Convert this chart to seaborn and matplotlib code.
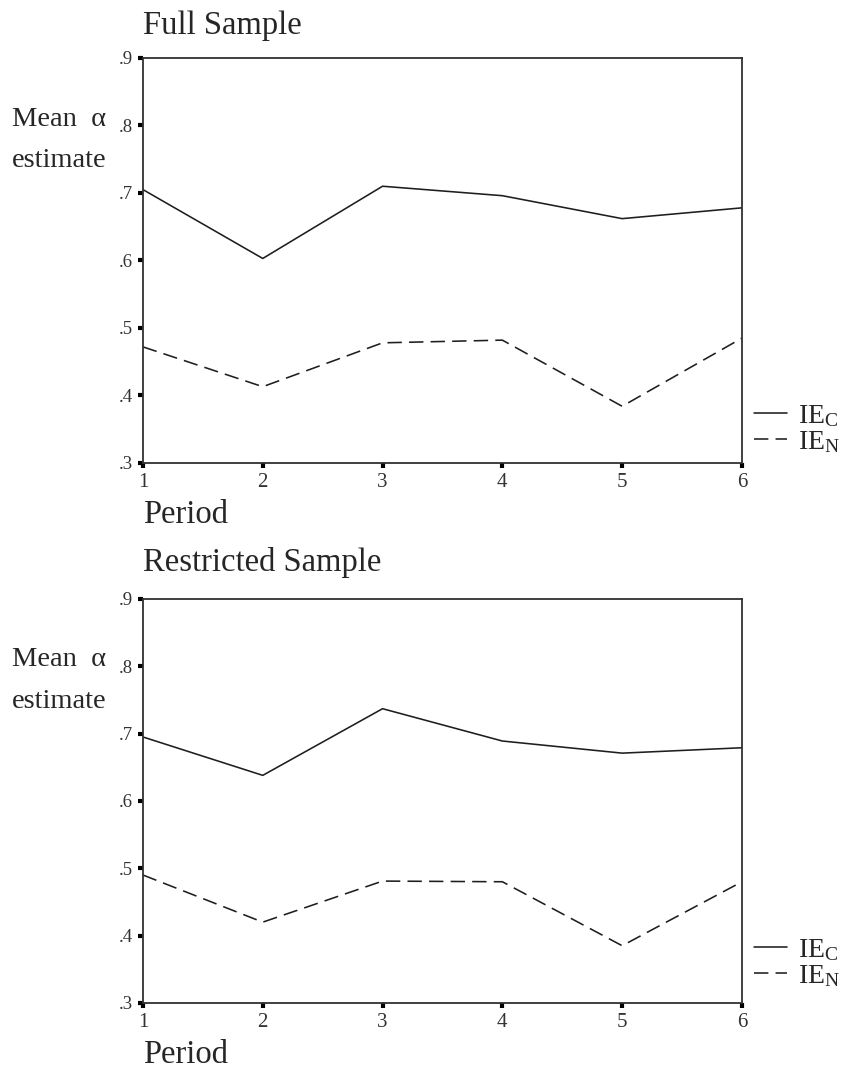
import pandas as pd
import numpy as np
import matplotlib
matplotlib.use("Agg")
import matplotlib.pyplot as plt
import seaborn as sns

# --- data ---
periods = [1, 2, 3, 4, 5, 6]
series_names = ["IE$_{\\mathrm{C}}$", "IE$_{\\mathrm{N}}$"]

full_ie_c = [0.705, 0.603, 0.710, 0.696, 0.662, 0.678]
full_ie_n = [0.472, 0.413, 0.478, 0.482, 0.384, 0.485]

restricted_ie_c = [0.695, 0.638, 0.737, 0.689, 0.671, 0.679]
restricted_ie_n = [0.490, 0.420, 0.481, 0.480, 0.385, 0.480]

panel_titles = ["Full Sample", "Restricted Sample"]
y_ticks = [0.3, 0.4, 0.5, 0.6, 0.7, 0.8, 0.9]
y_tick_labels = [".3", ".4", ".5", ".6", ".7", ".8", ".9"]


def long_frame(ie_c, ie_n):
    return pd.DataFrame({
        "Period": periods * 2,
        "Estimate": ie_c + ie_n,
        "Series": [series_names[0]] * len(periods) + [series_names[1]] * len(periods),
    })


frames = [long_frame(full_ie_c, full_ie_n), long_frame(restricted_ie_c, restricted_ie_n)]

# --- style ---
sns.set_style("ticks")
plt.rcParams["font.family"] = ["Liberation Serif", "DejaVu Serif"]
plt.rcParams["mathtext.fontset"] = "custom"
plt.rcParams["mathtext.rm"] = "Liberation Serif"
plt.rcParams["mathtext.it"] = "Liberation Serif:italic"

line_color = "#1e1e1e"
spine_color = "#303030"

fig = plt.figure(figsize=(8.53, 10.68), dpi=100)
fig.patch.set_facecolor("white")

# axes boxes in figure fraction: [left, bottom, width, height]
boxes = [[0.1676, 0.5665, 0.7022, 0.3792], [0.1676, 0.0609, 0.7022, 0.3783]]
title_pads = [17, 20]
legend_y = [0.02, 0.035]

for i, (df, box) in enumerate(zip(frames, boxes)):
    ax = fig.add_axes(box)
    sns.lineplot(data=df, x="Period", y="Estimate", style="Series",
                 style_order=series_names,
                 dashes={series_names[0]: "", series_names[1]: (9, 4.5)},
                 color=line_color, linewidth=1.15, legend=False, ax=ax)

    ax.set_xlim(1, 6)
    ax.set_ylim(0.3, 0.9)
    ax.set_xticks(periods)
    ax.set_xticklabels([str(p) for p in periods])
    ax.set_yticks(y_ticks)
    ax.set_yticklabels(y_tick_labels)

    for side in ["left", "right", "top", "bottom"]:
        ax.spines[side].set_visible(True)
        ax.spines[side].set_color(spine_color)
        ax.spines[side].set_linewidth(1.3)

    ax.tick_params(axis="both", direction="out", length=3.5, width=3,
                   color="black", pad=4)
    for lab in ax.get_yticklabels():
        lab.set_fontsize(13.5)
        lab.set_color("#333333")
    for lab in ax.get_xticklabels():
        lab.set_fontsize(15)
        lab.set_color("#333333")

    ax.set_title(panel_titles[i], loc="left", fontsize=23.5, pad=title_pads[i])

    ax.set_xlabel("Period", fontsize=23.5, ha="left", va="baseline")
    ax.xaxis.set_label_coords(0.0, -0.148)

    ax.set_ylabel("Mean  \u03b1\nestimate", fontsize=20.5, rotation=0,
                  ha="left", va="center", multialignment="left", linespacing=1.85)
    ax.yaxis.set_label_coords(-0.219, 0.798)

    handles = ax.get_lines()[:2]
    ax.legend(handles, series_names, loc="lower left", bbox_to_anchor=(1.02, legend_y[i]),
              frameon=False, fontsize=20, handlelength=1.2, handletextpad=0.4,
              labelspacing=0.0, borderaxespad=0, borderpad=0)

fig.savefig("out.png", dpi=100, facecolor="white")
